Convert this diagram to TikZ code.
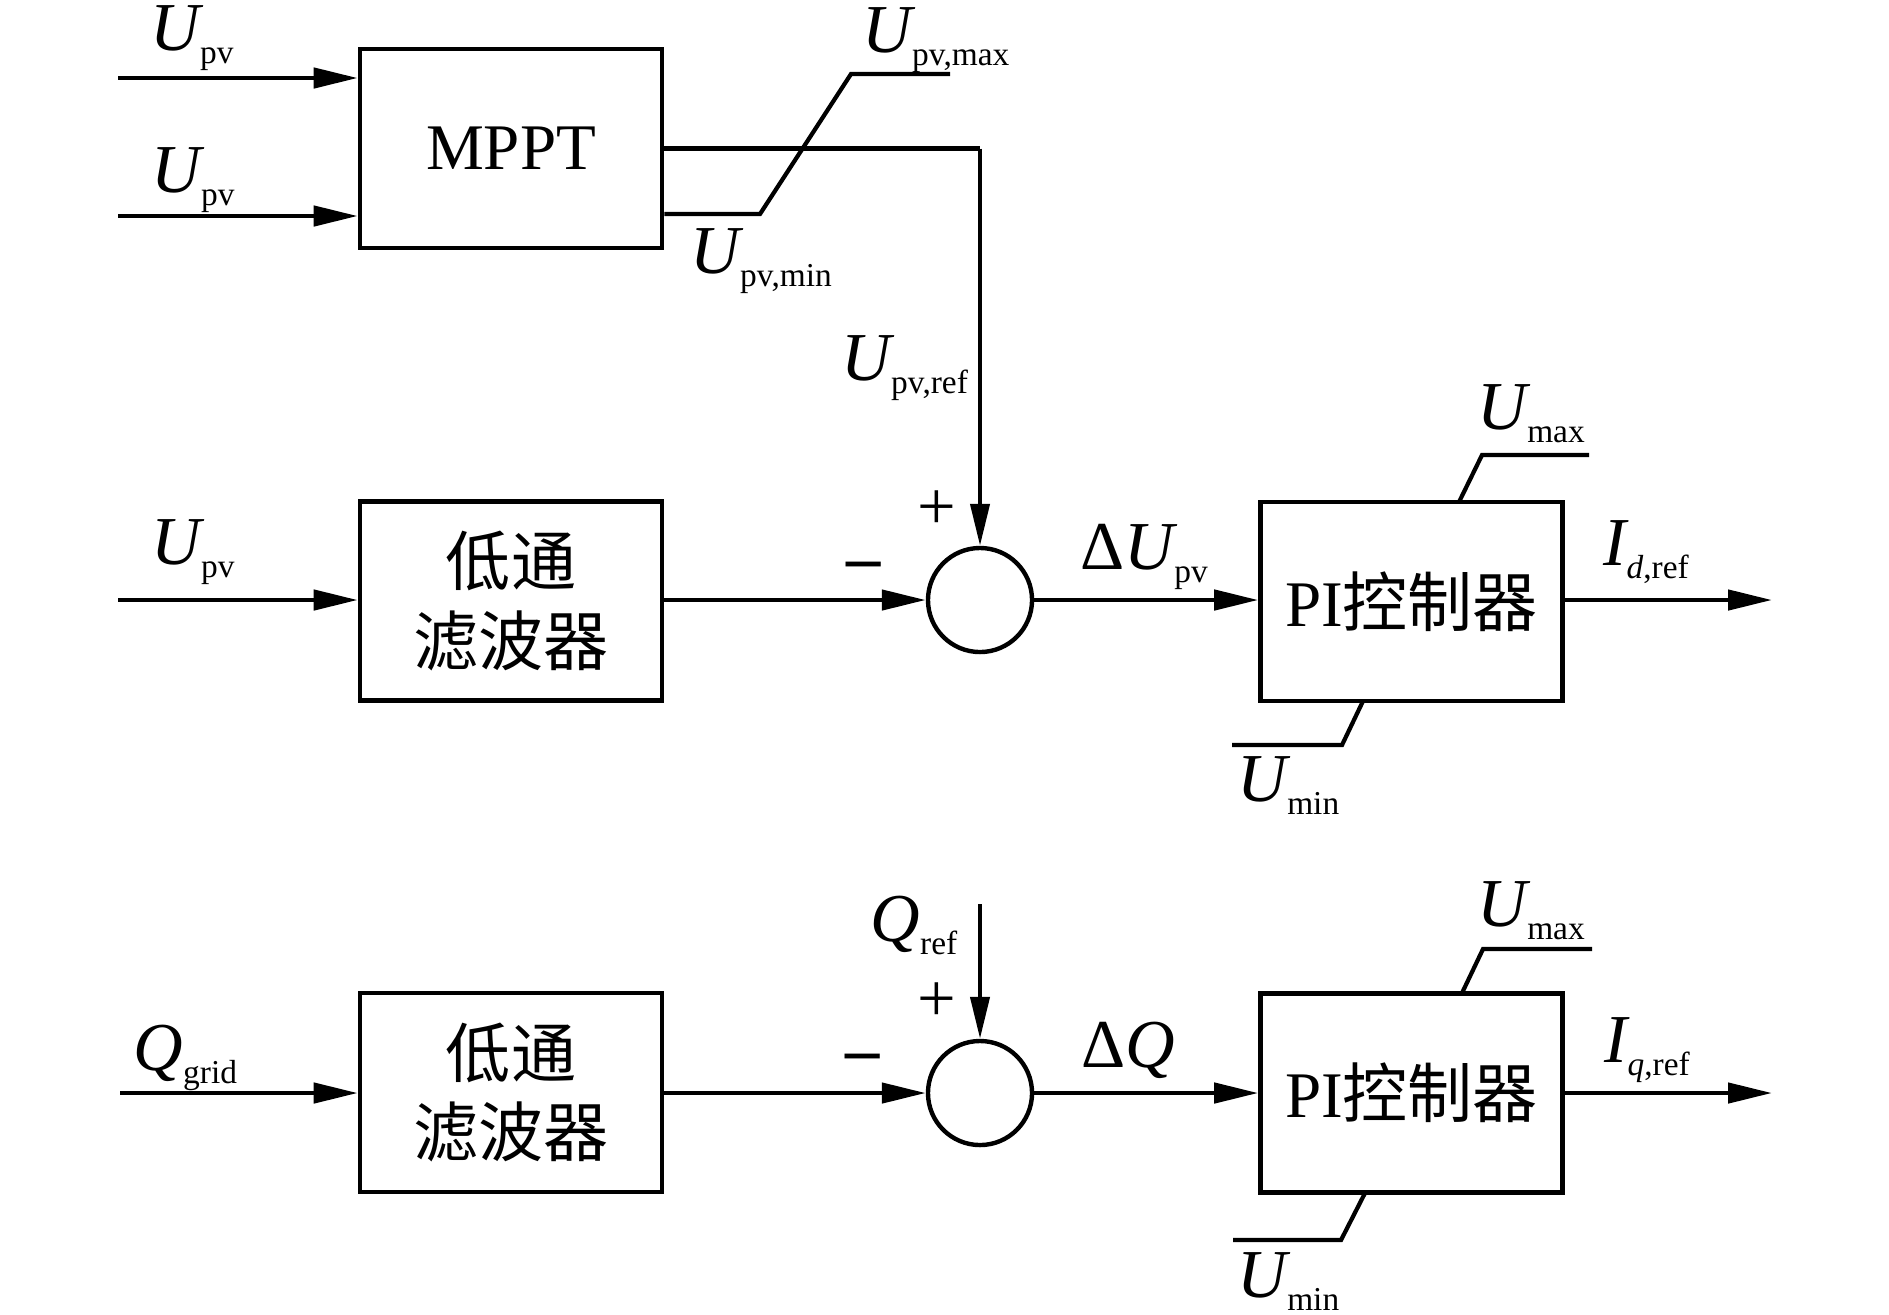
\documentclass[tikz,border=0pt]{standalone}
\usepackage{fontspec}
\setmainfont{Liberation Serif}
\newfontfamily\cjk{Noto Sans CJK SC}
\usetikzlibrary{arrows.meta}
\newcommand{\sbs}[1]{\raisebox{-3.7pt}{\fontsize{9.5}{10}\selectfont #1}}
\begin{document}
\begin{tikzpicture}[x=0.01cm,y=-0.01cm,
  box/.style={draw, line width=1.25pt, minimum width=3.02cm, minimum height=1.99cm, inner sep=0pt, align=center, font=\fontsize{18.5}{22.7}\selectfont},
  sumc/.style={draw, circle, line width=1.25pt, minimum size=1.04cm, inner sep=0pt},
  wire/.style={line width=1.3pt},
  arr/.style={wire, -{Triangle[length=4.4mm,width=2mm]}},
  varr/.style={line width=1.2pt, -{Triangle[length=4.2mm,width=1.9mm]}},
  lim/.style={line width=1.2pt},
  lab/.style={anchor=base west, inner sep=0pt, font=\fontsize{19.5}{22}\selectfont},
  sgn/.style={anchor=center, inner sep=0pt, font=\fontsize{19.5}{22}\selectfont}]
\useasboundingbox (0,0) rectangle (1889,1314);

% blocks
\node[box] (mppt) at (511,148.5) {MPPT};
\node[box] (lpf1) at (511,601) {\cjk 低通\\\cjk 滤波器};
\node[sumc] (sum1) at (980,600) {};
\node[box] (pi1) at (1411.5,601.5) {PI{\cjk 控制器}};
\node[box] (lpf2) at (511,1092.5) {\cjk 低通\\\cjk 滤波器};
\node[sumc] (sum2) at (980,1093) {};
\node[box] (pi2) at (1411.5,1093) {PI{\cjk 控制器}};

% free ends
\coordinate (inA) at (118,78);
\coordinate (inB) at (118,216);
\coordinate (inC) at (118,600);
\coordinate (inD) at (120,1093);
\coordinate (outC) at (1772,600);
\coordinate (outD) at (1772,1093);
\coordinate (qref) at (980,904);
\coordinate (corner) at (mppt.east -| sum1);

% top: MPPT
\draw[arr] (inA) -- (mppt.west |- inA);
\draw[arr] (inB) -- (mppt.west |- inB);
\draw[wire] (mppt.east) -- (corner);
\draw[varr] (corner) -- (sum1.north);
\draw[lim] (mppt.east |- 0,214) -- (760,214) -- (851,74) -- (950,74);

% row 1
\draw[arr] (inC) -- (sum1.west -| lpf1.west);
\draw[arr] (sum1.west -| lpf1.east) -- (sum1.west);
\draw[arr] (sum1.east) -- (sum1.east -| pi1.west);
\draw[arr] (sum1.east -| pi1.east) -- (outC);
\draw[lim] (1459,502) -- (1482,455) -- (1589,455);
\draw[lim] (1363,701) -- (1342,745) -- (1232,745);

% row 2
\draw[arr] (inD) -- (lpf2.west |- inD);
\draw[arr] (lpf2.east |- inD) -- (sum2.west);
\draw[varr] (qref) -- (sum2.north);
\draw[arr] (sum2.east) -- (pi2.west);
\draw[arr] (pi2.east) -- (outD);
\draw[lim] (1462,993) -- (1483,949) -- (1592,949);
\draw[lim] (1365,1193) -- (1341,1240) -- (1233,1240);

% labels
\node[lab] (l1) at (150,50) {\itshape U\upshape\sbs{pv}};
\node[lab] (l2) at (151,192) {\itshape U\upshape\sbs{pv}};
\node[lab] (l3) at (862,52) {\itshape U\upshape\sbs{pv,max}};
\node[lab] (l4) at (690,273) {\itshape U\upshape\sbs{pv,min}};
\node[lab] (l5) at (841,380) {\itshape U\upshape\sbs{pv,ref}};
\node[lab] (l6) at (151,564) {\itshape U\upshape\sbs{pv}};
\node[sgn] (p1) at (937,510) {+};
\node[sgn] (m1) at (864,571) {\bfseries –};
\node[lab] (l7) at (1080,569) {Δ\itshape U\upshape\sbs{pv}};
\node[lab] (l8) at (1603,565) {\itshape I\upshape\sbs{\itshape d\upshape ,ref}};
\node[lab] (l9) at (1477,429) {\itshape U\upshape\sbs{max}};
\node[lab] (l10) at (1237,801) {\itshape U\upshape\sbs{min}};
\node[lab] (l11) at (133,1070) {\itshape Q\upshape\sbs{grid}};
\node[lab] (l12) at (870,941) {\itshape Q\upshape\sbs{ref}};
\node[sgn] (p2) at (937,1002) {+};
\node[sgn] (m2) at (863,1063) {\bfseries –};
\node[lab] (l13) at (1081,1067) {Δ\itshape Q};
\node[lab] (l14) at (1477,926) {\itshape U\upshape\sbs{max}};
\node[lab] (l15) at (1237,1297) {\itshape U\upshape\sbs{min}};
\node[lab] (l16) at (1604,1062) {\itshape I\upshape\sbs{\itshape q\upshape ,ref}};
\end{tikzpicture}
\end{document}
